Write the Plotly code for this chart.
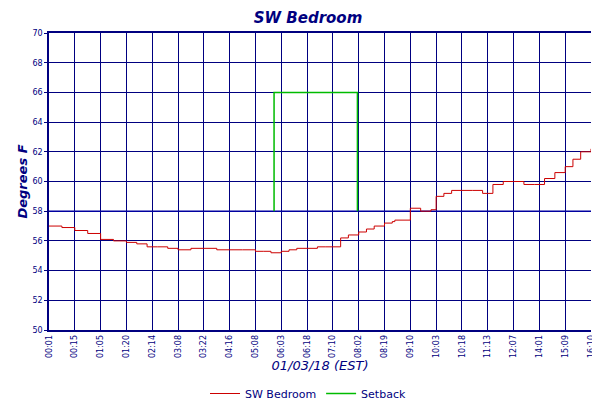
import plotly.graph_objects as go

tick_labels = ["00:01","00:15","01:05","01:20","02:14","03:08","03:22","04:16","05:08","06:03","06:18",
               "07:10","08:02","08:19","09:10","10:03","10:18","11:13","12:07","14:01","15:09","16:10"]
# positions in tick-index units
temp_x = [0,0.5,1.0,1.5,2.0,2.5,3.0,3.4,3.8,4.2,4.6,5.0,5.5,6.0,6.5,7.0,7.5,8.0,8.3,8.6,9.0,9.3,9.6,10.0,10.4,
          10.7,11.0,11.3,11.6,12.0,12.3,12.6,13.0,13.3,13.4,13.6,14.0,14.4,14.6,14.8,15.0,15.3,15.6,16.0,16.4,16.8,
          17.2,17.6,18.0,18.4,18.8,19.2,19.6,20.0,20.3,20.6,21.0]
temp_y = [57.0,56.9,56.7,56.5,56.1,56.0,55.9,55.8,55.6,55.6,55.5,55.4,55.5,55.5,55.4,55.4,55.4,55.3,55.3,55.2,55.3,
          55.4,55.5,55.5,55.6,55.6,55.6,56.2,56.4,56.6,56.8,57.0,57.2,57.3,57.4,57.4,58.2,58.0,58.0,58.1,59.0,
          59.2,59.4,59.4,59.4,59.2,59.8,60.0,60.0,59.8,59.8,60.2,60.6,61.0,61.5,62.0,62.2]
set_x = [8.72, 8.72, 11.95, 11.95]
set_y = [58, 66, 66, 58]
base_x = [0, 21]
base_y = [58, 58]

navy = "#000080"
fig = go.Figure()
fig.add_trace(go.Scatter(x=base_x, y=base_y, mode="lines", line=dict(color="#0000a0", width=1.5),
                         showlegend=False, hoverinfo="skip"))
fig.add_trace(go.Scatter(x=temp_x, y=temp_y, mode="lines", name="SW Bedroom",
                         line=dict(color="#cc0000", width=1, shape="hv")))
fig.add_trace(go.Scatter(x=set_x, y=set_y, mode="lines", name="Setback",
                         line=dict(color="#00bb00", width=1.5)))
fig.add_trace(go.Scatter(x=[0], y=[50], yaxis="y2", mode="markers", marker=dict(opacity=0),
                         showlegend=False, hoverinfo="skip"))
fig.update_layout(
    width=600, height=400, margin=dict(l=41, r=17, t=25, b=78, autoexpand=False),
    paper_bgcolor="white", plot_bgcolor="white",
    title=dict(text="<i><b>SW Bedroom</b></i>", x=0.5, y=0.99, yanchor="top",
               font=dict(family="DejaVu Sans", size=15, color=navy)),
    xaxis=dict(range=[0, 21], tickvals=list(range(22)), ticktext=tick_labels, tickangle=-90,
               showgrid=True, gridcolor=navy, gridwidth=1, showline=True, linecolor=navy, mirror=True,
               linewidth=1.5, zeroline=False, automargin=False,
               tickfont=dict(family="DejaVu Sans", size=8, color=navy),
               title=dict(text="<i>01/03/18 (EST)</i>", font=dict(family="DejaVu Sans", size=13, color=navy),
                          standoff=4)),
    yaxis=dict(range=[50, 70], dtick=2, showgrid=True, gridcolor=navy, gridwidth=1, showline=True,
               linecolor=navy, linewidth=1.5, zeroline=False, ticks="outside", ticklen=3, tickcolor=navy,
               automargin=False, tickfont=dict(family="DejaVu Sans", size=8, color=navy),
               title=dict(text="<i><b>Degrees F</b></i>", font=dict(family="DejaVu Sans", size=13, color=navy),
                          standoff=2)),
    yaxis2=dict(range=[50, 70], dtick=2, overlaying="y", side="right", showgrid=False, zeroline=False,
                ticks="outside", ticklen=3, tickcolor=navy, automargin=False,
                tickfont=dict(family="DejaVu Sans", size=8, color=navy)),
    legend=dict(orientation="h", x=0.5, xanchor="center", xref="container", y=0.0, yanchor="bottom",
                yref="container", font=dict(family="DejaVu Sans", size=11, color=navy)),
)
fig.write_html("out.html")
